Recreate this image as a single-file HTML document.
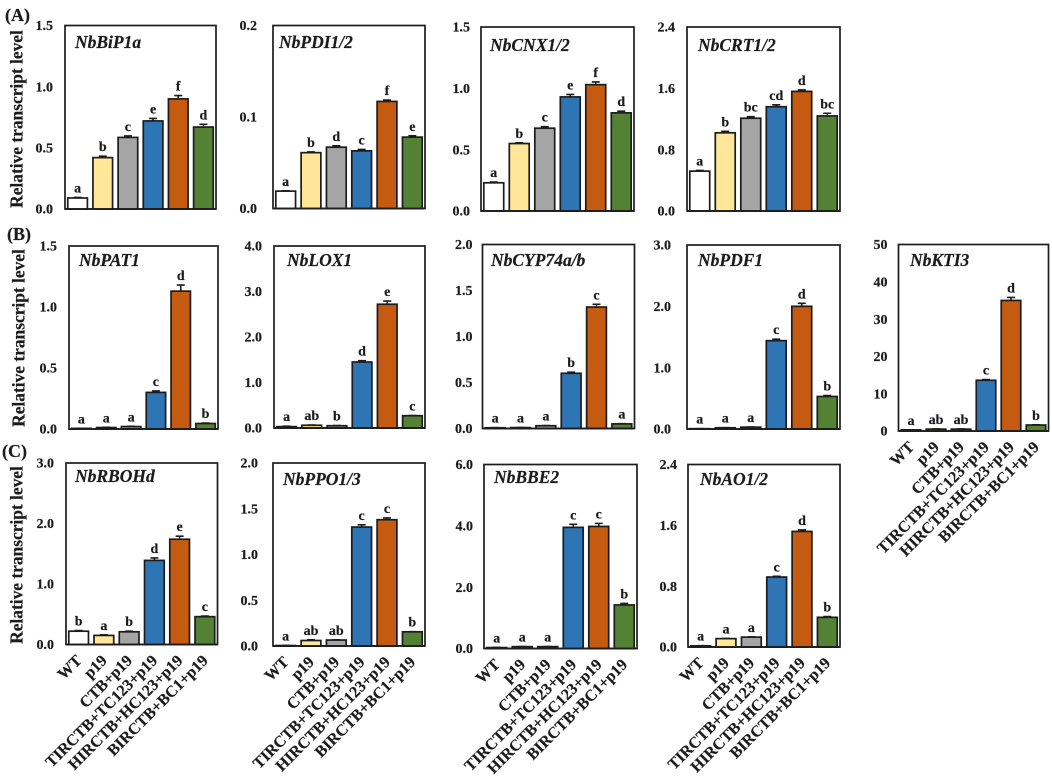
<!DOCTYPE html>
<html>
<head>
<meta charset="utf-8">
<title>Relative transcript levels</title>
<style>
html,body{margin:0;padding:0;background:#fff;}
#fig{display:block;width:1052px;height:779px;filter:blur(0.35px);}
text{font-family:"Liberation Serif",serif;font-weight:bold;fill:#1c1c1c;stroke:#1c1c1c;stroke-width:0.2px;}
</style>
</head>
<body>
<svg id="fig" xmlns="http://www.w3.org/2000/svg" width="1052" height="779" viewBox="0 0 1052 779">
  <rect x="0" y="0" width="1052" height="779" fill="#ffffff"/>
  <text x="5" y="21" font-size="18">(A)</text>
  <text x="7" y="240" font-size="18">(B)</text>
  <text x="2" y="457" font-size="18">(C)</text>
  <text transform="translate(22.5,119) rotate(-90)" text-anchor="middle" font-size="17.4">Relative transcript level</text>
  <text transform="translate(24.5,338) rotate(-90)" text-anchor="middle" font-size="17.4">Relative transcript level</text>
  <text transform="translate(22.5,555) rotate(-90)" text-anchor="middle" font-size="17.4">Relative transcript level</text>
  <g id="panels"></g>
</svg>
<script>
const treatments = ['WT','p19','CTB+p19','TIRCTB+TC123+p19','HIRCTB+HC123+p19','BIRCTB+BC1+p19'];
const barColors = ['#ffffff','#ffe699','#a5a5a5','#2e75b6','#c55a11','#548235'];

const bipValues = [0.09,0.42,0.585,0.72,0.90,0.67];
const bipErrors = [0.005,0.012,0.012,0.02,0.027,0.022];
const bipLetters = ['a','b','c','e','f','d'];
const bipTicks = ['0.0','0.5','1.0','1.5'];

const pdiValues = [0.019,0.061,0.067,0.063,0.117,0.078];
const pdiErrors = [0.0003,0.0008,0.0015,0.0015,0.0015,0.0015];
const pdiLetters = ['a','b','d','c','f','e'];
const pdiTicks = ['0.0','0.1','0.2'];

const cnxValues = [0.23,0.55,0.675,0.93,1.03,0.80];
const cnxErrors = [0.006,0.006,0.012,0.02,0.022,0.014];
const cnxLetters = ['a','b','c','e','f','d'];
const cnxTicks = ['0.0','0.5','1.0','1.5'];

const crtValues = [0.52,1.02,1.21,1.36,1.56,1.24];
const crtErrors = [0.01,0.02,0.02,0.025,0.02,0.035];
const crtLetters = ['a','b','bc','cd','d','bc'];
const crtTicks = ['0.0','0.8','1.6','2.4'];

const patValues = [0.005,0.012,0.02,0.30,1.13,0.045];
const patErrors = [0.001,0.002,0.002,0.012,0.05,0.004];
const patLetters = ['a','a','a','c','d','b'];
const patTicks = ['0.0','0.5','1.0','1.5'];

const loxValues = [0.03,0.06,0.05,1.45,2.72,0.27];
const loxErrors = [0.01,0.005,0.005,0.03,0.07,0.005];
const loxLetters = ['a','ab','b','d','e','c'];
const loxTicks = ['0.0','1.0','2.0','3.0','4.0'];

const cypValues = [0.008,0.01,0.03,0.60,1.32,0.05];
const cypErrors = [0.001,0.001,0.002,0.012,0.03,0.002];
const cypLetters = ['a','a','a','b','c','a'];
const cypTicks = ['0.0','0.5','1.0','1.5','2.0'];

const pdfValues = [0.005,0.02,0.03,1.44,2.00,0.53];
const pdfErrors = [0.001,0.002,0.002,0.025,0.05,0.015];
const pdfLetters = ['a','a','a','c','d','b'];
const pdfTicks = ['0.0','1.0','2.0','3.0'];

const ktiValues = [0.3,0.5,0.5,13.6,35,1.6];
const ktiErrors = [0.03,0.05,0.05,0.2,0.8,0.05];
const ktiLetters = ['a','ab','ab','c','d','b'];
const ktiTicks = ['0','10','20','30','40','50'];

const rbohValues = [0.22,0.15,0.21,1.39,1.74,0.46];
const rbohErrors = [0.01,0.01,0.01,0.04,0.05,0.01];
const rbohLetters = ['b','a','b','d','e','c'];
const rbohTicks = ['0.0','1.0','2.0','3.0'];

const ppoValues = [0.005,0.06,0.065,1.30,1.38,0.155];
const ppoErrors = [0.001,0.008,0.003,0.025,0.02,0.002];
const ppoLetters = ['a','ab','ab','c','c','b'];
const ppoTicks = ['0.0','0.5','1.0','1.5','2.0'];

const bbeValues = [0.03,0.06,0.06,3.95,3.98,1.42];
const bbeErrors = [0.005,0.005,0.005,0.1,0.1,0.05];
const bbeLetters = ['a','a','a','c','c','b'];
const bbeTicks = ['0.0','2.0','4.0','6.0'];

const aoValues = [0.015,0.11,0.13,0.92,1.52,0.39];
const aoErrors = [0.002,0.003,0.003,0.01,0.02,0.01];
const aoLetters = ['a','a','a','c','d','b'];
const aoTicks = ['0.0','0.8','1.6','2.4'];

const panels = [
  {key:'nbbip1a',title:'NbBiP1a',values:bipValues,errors:bipErrors,letters:bipLetters,ticks:bipTicks,box:[65,216,25.5,209],titleAt:[75,48],gap:12,xlabels:false},
  {key:'nbpdi',title:'NbPDI1/2',values:pdiValues,errors:pdiErrors,letters:pdiLetters,ticks:pdiTicks,box:[273,425,25.5,208.5],titleAt:[279,48],gap:16,xlabels:false},
  {key:'nbcnx',title:'NbCNX1/2',values:cnxValues,errors:cnxErrors,letters:cnxLetters,ticks:cnxTicks,box:[481,634,27,211],titleAt:[490,51],gap:11,xlabels:false},
  {key:'nbcrt',title:'NbCRT1/2',values:crtValues,errors:crtErrors,letters:crtLetters,ticks:crtTicks,box:[687,840,27,211],titleAt:[698,51],gap:12,xlabels:false},
  {key:'nbpat1',title:'NbPAT1',values:patValues,errors:patErrors,letters:patLetters,ticks:patTicks,box:[69,218,246,429],titleAt:[79,266],gap:12,xlabels:false},
  {key:'nblox1',title:'NbLOX1',values:loxValues,errors:loxErrors,letters:loxLetters,ticks:loxTicks,box:[274,425,246,428],titleAt:[287,266],gap:12,xlabels:false},
  {key:'nbcyp74',title:'NbCYP74a/b',values:cypValues,errors:cypErrors,letters:cypLetters,ticks:cypTicks,box:[482.5,634.5,244.5,428.5],titleAt:[491,266],gap:10,xlabels:false},
  {key:'nbpdf1',title:'NbPDF1',values:pdfValues,errors:pdfErrors,letters:pdfLetters,ticks:pdfTicks,box:[687,840,245,429],titleAt:[698,266],gap:16,xlabels:false},
  {key:'nbkti3',title:'NbKTI3',values:ktiValues,errors:ktiErrors,letters:ktiLetters,ticks:ktiTicks,box:[898.5,1048.5,244.5,431],titleAt:[910,266],gap:11,xlabels:true},
  {key:'nbrbohd',title:'NbRBOHd',values:rbohValues,errors:rbohErrors,letters:rbohLetters,ticks:rbohTicks,box:[66,217.5,463,644.5],titleAt:[75,482],gap:12,xlabels:true},
  {key:'nbppo',title:'NbPPO1/3',values:ppoValues,errors:ppoErrors,letters:ppoLetters,ticks:ppoTicks,box:[273,425,463,646],titleAt:[283,485],gap:15,xlabels:true},
  {key:'nbbbe2',title:'NbBBE2',values:bbeValues,errors:bbeErrors,letters:bbeLetters,ticks:bbeTicks,box:[484,637,464.5,648.5],titleAt:[494,483],gap:11,xlabels:true},
  {key:'nbao',title:'NbAO1/2',values:aoValues,errors:aoErrors,letters:aoLetters,ticks:aoTicks,box:[688,840,464.5,647],titleAt:[700,485],gap:11,xlabels:true}
];

const NS = 'http://www.w3.org/2000/svg';
const INK = '#1c1c1c';
const root = document.getElementById('panels');

function make(tag, attrs, parent, content) {
  const el = document.createElementNS(NS, tag);
  for (const k in attrs) el.setAttribute(k, attrs[k]);
  if (content !== undefined) el.textContent = content;
  parent.appendChild(el);
  return el;
}

panels.forEach(function (p) {
  const left = p.box[0], right = p.box[1], top = p.box[2], bottom = p.box[3];
  const tickNumbers = p.ticks.map(Number);
  const yMax = tickNumbers[tickNumbers.length - 1];
  const slot = (right - left) / p.values.length;
  const barW = slot * 0.78;
  const yScale = function (v) { return bottom - (v / yMax) * (bottom - top); };
  const xScale = function (i) { return left + slot * (i + 0.5); };

  const g = make('g', {}, root);
  
  

  const frame = make('rect', {x:left,y:top,width:right-left,height:bottom-top,fill:'#fff',stroke:INK,'stroke-width':1.7}, g);
  
  

  const title = make('text', {x:p.titleAt[0],y:p.titleAt[1],'font-size':17.5,'font-style':'italic'}, g, p.title);
  
  

  p.ticks.forEach(function (t, i) {
    const tick = make('text', {x:left-p.gap,y:yScale(tickNumbers[i])+4.7,'font-size':14,'text-anchor':'end'}, g, t);
    
    
  });

  p.values.forEach(function (v, i) {
    const cx = xScale(i);
    const yTop = yScale(v);
    const errTop = yScale(v + p.errors[i]);

    const err = make('path', {d:'M'+cx+' '+yTop+'V'+errTop+'M'+(cx-4)+' '+errTop+'H'+(cx+4),stroke:INK,'stroke-width':1.6,fill:'none'}, g);
    
    

    const bar = make('rect', {x:cx-barW/2,y:yTop,width:barW,height:bottom-yTop,fill:barColors[i],stroke:INK,'stroke-width':1.7}, g);
    
    

    const letter = make('text', {x:cx,y:errTop-5,'font-size':14,'text-anchor':'middle'}, g, p.letters[i]);
    
    

    if (p.xlabels) {
      const ex = cx + 4;
      const ey = bottom + 17;
      const label = make('text', {transform:'translate('+ex+','+ey+') rotate(-45)','font-size':16,'text-anchor':'end'}, g, treatments[i]);
      
      
    }
  });

  const base = make('line', {x1:left,x2:right,y1:bottom,y2:bottom,stroke:INK,'stroke-width':1.8}, g);
  
  
});
</script>
</body>
</html>
